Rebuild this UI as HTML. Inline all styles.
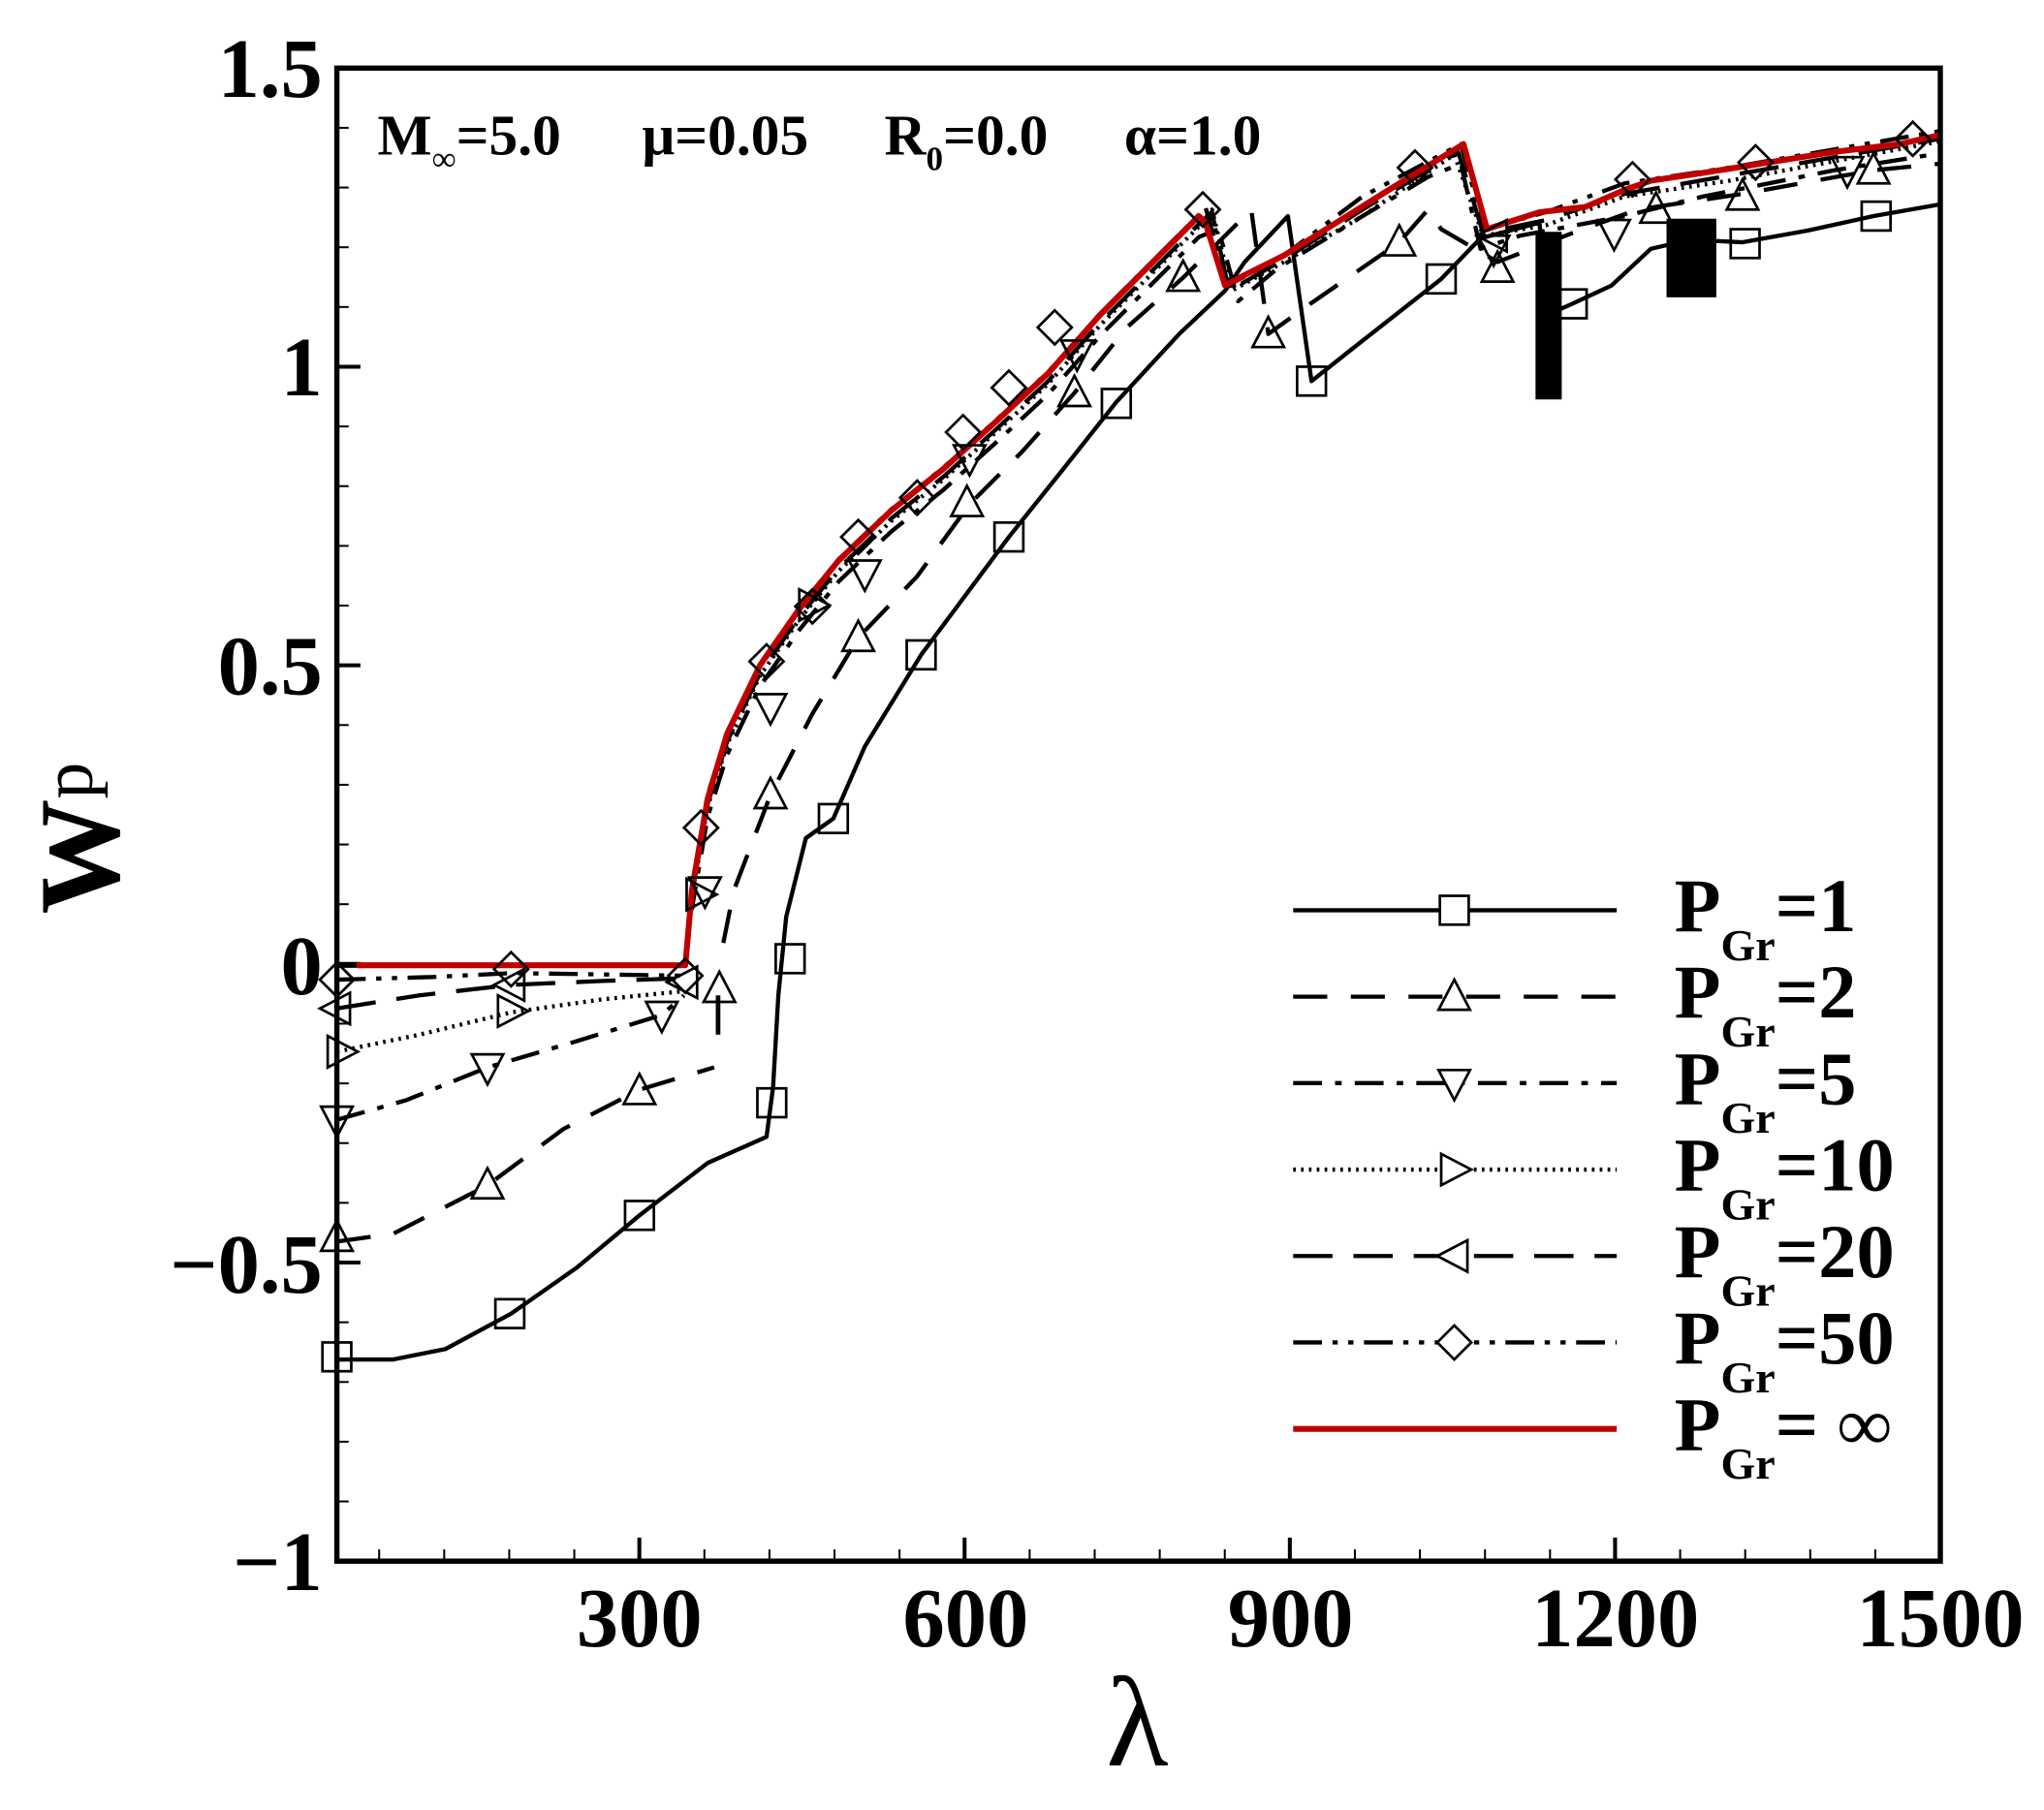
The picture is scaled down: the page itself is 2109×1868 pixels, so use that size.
<!DOCTYPE html>
<html><head><meta charset="utf-8"><style>
html,body{margin:0;padding:0;background:#fff;}
svg{display:block}
text{font-family:"Liberation Serif",serif;font-weight:bold;fill:#000}
</style></head><body>
<svg id="s" width="2109" height="1868" viewBox="0 0 1560 1382" xmlns="http://www.w3.org/2000/svg">
<rect width="1560" height="1382" fill="#fff"/>
<g id="ticks" stroke="#000" stroke-width="1.5"></g>
<g id="curves" fill="none" stroke="#000" stroke-linejoin="round"></g>
<g id="marks" fill="none" stroke="#000" stroke-width="2"></g>
<rect x="257" y="52" width="1224" height="1140" fill="none" stroke="#000" stroke-width="4"/>
<rect x="1172" y="177" width="20" height="128" fill="#000"/>
<rect x="1272" y="167" width="38" height="60" fill="#000"/>
<g font-size="64" text-anchor="end">
<text x="246" y="74">1.5</text>
<text x="246" y="302">1</text>
<text x="246" y="530">0.5</text>
<text x="246" y="759">0</text>
<text x="246" y="987">−0.5</text>
<text x="246" y="1214">−1</text>
</g>
<g font-size="64" text-anchor="middle">
<text x="488" y="1257">300</text>
<text x="737" y="1257">600</text>
<text x="985" y="1257">900</text>
<text x="1233" y="1257">1200</text>
<text x="1481" y="1257">1500</text>
</g>
<text x="868" y="1348" font-size="98" text-anchor="middle" style="font-weight:normal">λ</text>
<g transform="translate(90,640) rotate(-90)"><text font-size="88" text-anchor="middle">W<tspan font-size="56" dy="-20" style="font-weight:normal">p</tspan></text></g>
<g font-size="44">
<text x="288" y="118">M<tspan font-size="26" dy="12" style="font-weight:normal">∞</tspan><tspan dy="-12">=5.0</tspan></text>
<text x="490" y="118">μ=0.05</text>
<text x="675" y="118">R<tspan font-size="26" dy="12">0</tspan><tspan dy="-12">=0.0</tspan></text>
<text x="858" y="118">α=1.0</text>
</g>
<g id="leg"></g>
</svg>
<script>
var NS="http://www.w3.org/2000/svg";
function el(p,t,a){var e=document.createElementNS(NS,t);for(var k in a)e.setAttribute(k,a[k]);p.appendChild(e);return e;}
var T=document.getElementById('ticks');
function X(l){return 257+(l-21)*0.8276;}
function Y(w){return 52+(1.5-w)*456;}
for(var l=60;l<1500;l+=60){var x=X(l);var maj=(l%300==0);el(T,'line',{x1:x,x2:x,y1:1192,y2:1192-(maj?18:9),'stroke-width':maj?3:1.5});}
for(var i=-9;i<15;i++){var w=i/10;var y=Y(w);var maj=(i%5==0);el(T,'line',{x1:257,x2:257+(maj?18:9),y1:y,y2:y,'stroke-width':maj?3:1.5});}
var C=document.getElementById('curves'),M=document.getElementById('marks');
function pl(pts,dash,col,wd){el(C,'polyline',{points:pts.map(function(p){return p.join(',')}).join(' '),'stroke-dasharray':dash||'none',stroke:col||'#000','stroke-width':wd||3.2});}
function mk(type,x,y,g){g=g||M;var s=11;
 if(type=='sq')el(g,'rect',{x:x-s,y:y-s,width:2*s,height:2*s});
 else if(type=='up')el(g,'polygon',{points:[x,y-s-2,x+s+1,y+s-1,x-s-1,y+s-1].join(',')});
 else if(type=='dn')el(g,'polygon',{points:[x,y+s+2,x+s+1,y-s+1,x-s-1,y-s+1].join(',')});
 else if(type=='rt')el(g,'polygon',{points:[x+s+2,y,x-s+1,y-s-1,x-s+1,y+s+1].join(',')});
 else if(type=='lt')el(g,'polygon',{points:[x-s-2,y,x+s-1,y-s-1,x+s-1,y+s+1].join(',')});
 else if(type=='di')el(g,'polygon',{points:[x,y-s-2,x+s+2,y,x,y+s+2,x-s-2,y].join(',')});}
function upper(dy){return [[528,680+dy],[540,610+dy],[555,562+dy],[580,510+dy],[610,467+dy],[640,430+dy],[680,392+dy],[720,360+dy],[760,324+dy],[800,287+dy],[840,242+dy],[880,202+dy],[915,167+dy]];}
pl([[257,1038],[300,1038],[340,1030],[390,1003],[440,968],[488,928],[540,888],[585,868],[590,830],[594,760],[600,700],[615,640],[636,625],[660,570],[703,500],[770,410],[810,360],[852,307],[900,255],[935,222],[950,200],[983,165],[1001,291],[1030,268],[1100,213],[1130,182],[1175,170],[1182,240],[1200,232],[1230,218],[1260,190],[1290,183],[1330,185],[1380,176],[1430,165],[1481,156]]);
[[257,1036],[389,1003],[488,928],[589,842],[603,732],[636,625],[703,500],[770,410],[852,308],[1001,291],[1100,213],[1200,232],[1332,186],[1432,165]].forEach(function(p){mk('sq',p[0],p[1]);});
pl([[257,948],[300,942],[372,905],[430,862],[488,832],[545,815]],'26 18');
pl([[548,790],[548,760]],'none','#000',3.5);
pl([[552,720],[560,680],[588,607],[620,545],[655,487],[700,440],[740,385],[780,345],[820,300],[860,250],[903,212],[940,175],[955,160],[968,255],[1000,232],[1068,185],[1090,160],[1100,175],[1143,200],[1200,178],[1250,160],[1330,148],[1430,130],[1481,125]],'26 18');
[[257,945],[372,905],[488,833],[549,755],[588,607],[655,487],[738,384],[820,300],[903,212],[968,255],[1068,185],[1143,205],[1264,160],[1330,150],[1430,130]].forEach(function(p){mk('up',p[0],p[1]);});
pl([[257,855],[310,840],[372,815],[440,795],[505,775],[522,760]],'22 10 5 10');
pl([[530,690]].concat(upper(14)).concat([[930,175],[945,230],[975,205],[1040,165],[1090,135],[1115,125],[1130,190],[1160,180],[1240,165],[1300,150],[1400,130],[1481,117]]),'22 10 5 10');
[[257,855],[372,815],[505,775],[538,680],[588,540],[660,438],[740,350],[822,270],[1140,190],[1232,178],[1410,130]].forEach(function(p){mk('dn',p[0],p[1]);});
pl([[257,803],[320,790],[390,773],[460,763],[520,757]],'2 4');
pl([[526,700]].concat(upper(6)).concat([[925,160],[940,222],[980,200],[1040,165],[1110,118],[1132,180],[1180,172],[1240,150],[1320,138],[1481,108]]),'2 4');
[[260,803],[390,772],[534,683],[620,462]].forEach(function(p){mk('rt',p[0],p[1]);});
pl([[257,770],[320,760],[390,752],[460,749],[520,747]],'30 16');
pl([[525,720]].concat(upper(4)).concat([[925,162],[938,222],[980,198],[1040,160],[1113,116],[1132,178],[1180,168],[1240,148],[1320,134],[1481,106]]),'30 16');
[[257,770],[390,752],[522,750],[1140,180]].forEach(function(p){mk('lt',p[0],p[1]);});
pl([[257,748],[330,746],[390,743],[460,744],[523,745]],'22 8 4 8 4 8');
pl([[525,710]].concat(upper(-3)).concat([[920,158],[937,218],[980,195],[1040,150],[1115,110],[1133,175],[1180,162],[1240,140],[1320,128],[1481,100]]),'22 8 4 8 4 8');
[[257,748],[390,740],[523,745],[535,632],[585,505],[620,463],[655,410],[700,380],[735,330],[770,296],[805,250],[918,160],[1080,128],[1246,137],[1340,124],[1460,106]].forEach(function(p){mk('di',p[0],p[1]);});
pl([[257,737],[272,737]],'none','#000',4);
pl([[272,737],[523,737]].concat([[528,680],[540,610],[555,560],[580,508],[610,465],[640,428],[680,390],[720,358],[760,322],[800,285],[840,240],[880,200],[915,165],[920,170],[935,218],[950,210],[980,195],[1020,170],[1060,145],[1117,110],[1135,175],[1150,170],[1175,162],[1210,158],[1240,145],[1260,138],[1300,132],[1350,124],[1400,116],[1450,110],[1481,103]]),'none','#c00000',4.5);
var L=document.getElementById('leg');
var rows=[['sq','none','1'],['up','26 18','2'],['dn','22 10 5 10','5'],['rt','2 4','10'],['lt','30 16','20'],['di','22 8 4 8 4 8','50'],[null,'none','∞']];
rows.forEach(function(r,i){var y=695+i*66;
 el(L,'line',{x1:987,x2:1234,y1:y,y2:y,stroke:r[0]?'#000':'#c00000','stroke-width':r[0]?3.2:4.5,'stroke-dasharray':r[1]});
 if(r[0]){var g=el(L,'g',{fill:'#fff',stroke:'#000','stroke-width':2});mk(r[0],1110,y,g);}
 var t=el(L,'text',{x:1278,y:y+16,'font-size':58});
 t.appendChild(document.createTextNode('P'));
 var s1=el(t,'tspan',{'font-size':34,dy:22});s1.appendChild(document.createTextNode('Gr'));
 var s2=el(t,'tspan',{dy:-22});s2.appendChild(document.createTextNode(r[2]=='∞'?'= ∞':'='+r[2]));
});
</script>
</body></html>
